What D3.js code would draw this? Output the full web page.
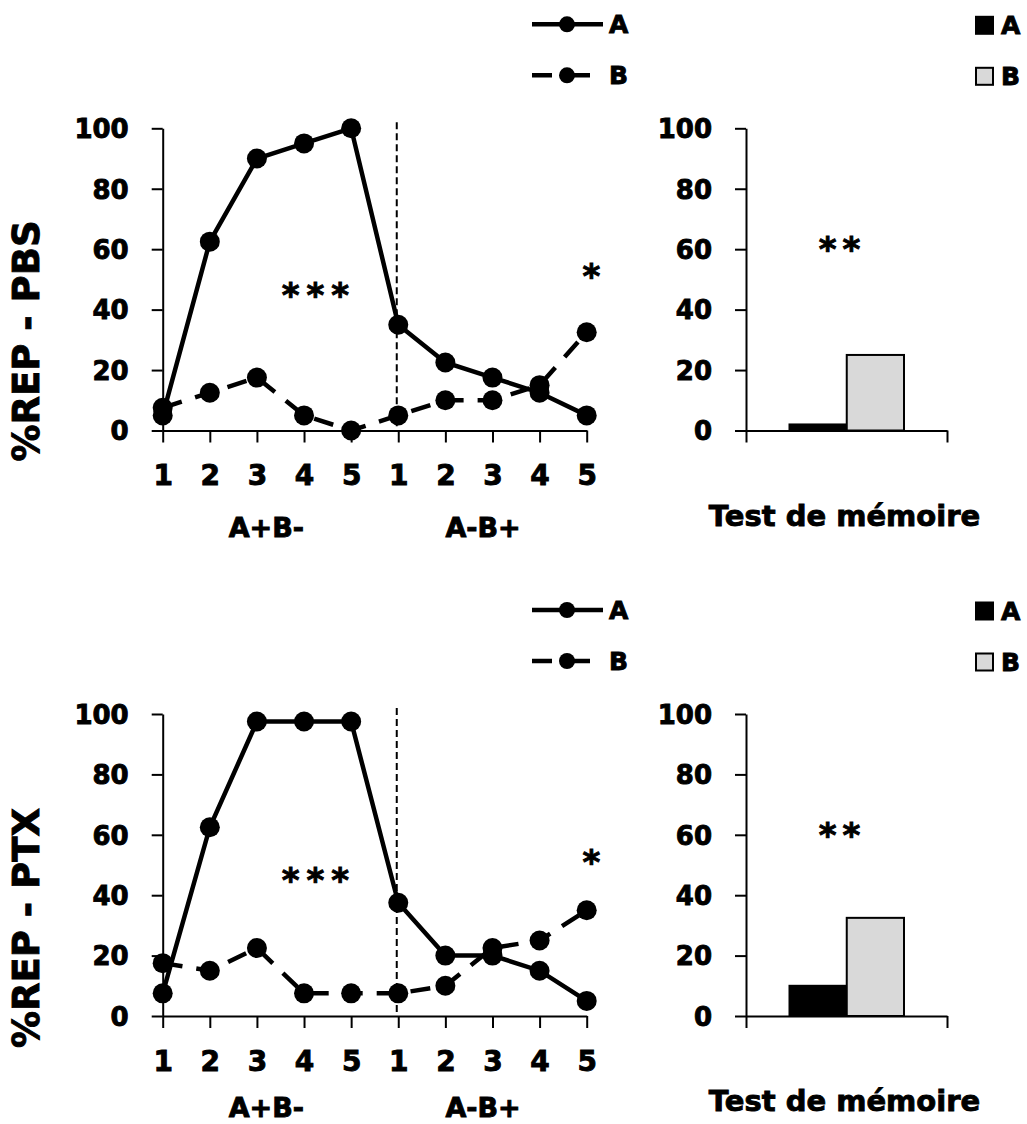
<!DOCTYPE html>
<html><head><meta charset="utf-8">
<script src="https://cdn.jsdelivr.net/npm/d3@7"></script>
<style>
body{margin:0;background:#fff}
text{font-family:"DejaVu Sans",sans-serif;font-weight:bold;fill:#000;stroke:#000;stroke-width:0.9px}
</style>
</head><body>
<svg id="c" width="1027" height="1124"></svg>
<script>
// ---- data ----
const sessionLabels = ["1","2","3","4","5","1","2","3","4","5"];
const phaseLabels = ["A+B-","A-B+"];
const seriesNames = ["A","B"];
const yTickValues = [0,20,40,60,80,100];
const pbsA = [5, 62.5, 90, 95, 100, 35, 22.5, 17.5, 12.5, 5];
const pbsB = [7.5, 12.5, 17.5, 5, 0, 5, 10, 10, 15, 32.5];
const ptxA = [7.5, 62.5, 97.5, 97.5, 97.5, 37.5, 20, 20, 15, 5];
const ptxB = [17.5, 15, 22.5, 7.5, 7.5, 7.5, 10, 22.5, 25, 35];
const pbsMemory = [2, 25];
const ptxMemory = [10, 32.5];
const memoryLabel = "Test de mémoire";
const titles = ["%REP - PBS", "%REP - PTX"];
const lineStars = ["***", "*"];
const barStars = "**";

// ---- layout ----
const svg = d3.select("#c");
const panels = [
  {title: titles[0], A: pbsA, B: pbsB, mem: pbsMemory, yTop: 128.3, yBot: 430.5, titleY: 341, phaseOff: 97},
  {title: titles[1], A: ptxA, B: ptxB, mem: ptxMemory, yTop: 714, yBot: 1016, titleY: 928, phaseOff: 91}
];
const lineX0 = 162.7, lineX1 = 586.7;
const barX0 = 746, barX1 = 947;

function styleText(sel, size) {
  sel.attr("font-size", size).style("font-family","DejaVu Sans").style("font-weight","bold")
     .attr("fill","#000").attr("stroke","#000").attr("stroke-width",0.9);
}

panels.forEach(p => {
  const g = svg.append("g");
  const y = d3.scaleLinear().domain([0,100]).range([p.yBot, p.yTop]);
  const x = d3.scaleLinear().domain([0, sessionLabels.length-1]).range([lineX0, lineX1]);

  // y axis (line chart)
  const yAx = g.append("g").attr("transform", `translate(${lineX0},0)`)
    .call(d3.axisLeft(y).tickValues(yTickValues).tickSize(11).tickSizeOuter(0).tickPadding(23));
  // x axis (line chart)
  const xAx = g.append("g").attr("transform", `translate(0,${p.yBot})`)
    .call(d3.axisBottom(x).tickValues(d3.range(sessionLabels.length))
      .tickFormat(i => sessionLabels[i]).tickSize(12).tickSizeOuter(0).tickPadding(23));
  [yAx, xAx].forEach(a => {
    a.selectAll("path,line").attr("stroke","#000").attr("stroke-width",2);
  });
  styleText(yAx.selectAll("text"), 26); yAx.selectAll("text").attr("dy","0.36em");
  styleText(xAx.selectAll("text"), 28);

  // phase labels
  g.selectAll(".phase").data(phaseLabels).enter().append("text")
    .attr("x", (d,i) => x(i === 0 ? 2.2 : 6.8))
    .attr("y", p.yBot + p.phaseOff).attr("dy","0.36em")
    .attr("text-anchor","middle").attr("font-size",27).text(d => d);

  // title
  g.append("text").attr("transform", `translate(39,${p.titleY}) rotate(-90)`)
    .attr("text-anchor","middle").attr("font-size",37).attr("stroke-width",1.2).text(p.title);

  // vertical dashed separator
  g.append("line").attr("x1", x(5)-1.5).attr("x2", x(5)-1.5)
    .attr("y1", y(102)).attr("y2", p.yBot)
    .attr("stroke","#000").attr("stroke-width",2).attr("stroke-dasharray","7,4");

  // lines
  const line = d3.line().x((d,i) => x(i)).y(d => y(d));
  g.append("path").datum(p.B).attr("d", line).attr("fill","none")
    .attr("stroke","#000").attr("stroke-width",4.5).attr("stroke-dasharray","20,14");
  g.append("path").datum(p.A).attr("d", line).attr("fill","none")
    .attr("stroke","#000").attr("stroke-width",4.5);
  [p.B, p.A].forEach(s => {
    g.selectAll(null).data(s).enter().append("circle")
      .attr("cx", (d,i) => x(i)).attr("cy", d => y(d)).attr("r", 10).attr("fill","#000");
  });

  // stars on line chart
  g.append("text").attr("x", x(3.25)+3).attr("y", y(48)).attr("dy","0.62em")
    .attr("text-anchor","middle").attr("font-size",34).attr("letter-spacing",7).text(lineStars[0]);
  g.append("text").attr("x", x(9.1)).attr("y", y(54)).attr("dy","0.62em")
    .attr("text-anchor","middle").attr("font-size",34).text(lineStars[1]);

  // line legend
  const lg = g.append("g");
  seriesNames.forEach((s,i) => {
    const ly = p.yTop - 104 + i*51;
    lg.append("line").attr("x1",532).attr("x2", i===0 ? 603 : 590).attr("y1",ly).attr("y2",ly)
      .attr("stroke","#000").attr("stroke-width",4.5)
      .attr("stroke-dasharray", i===0 ? null : "20,13,25");
    lg.append("circle").attr("cx",567).attr("cy",ly).attr("r",8).attr("fill","#000");
    lg.append("text").attr("x",609).attr("y",ly).attr("dy","0.36em").attr("font-size",25).text(s);
  });

  // ---- bar chart ----
  const bx = d3.scaleBand().domain(seriesNames).range([barX0+43.5, barX1-43]).padding(0);
  const byAx = g.append("g").attr("transform", `translate(${barX0},0)`)
    .call(d3.axisLeft(y).tickValues(yTickValues).tickSize(11).tickSizeOuter(0).tickPadding(23));
  styleText(byAx.selectAll("text"), 26); byAx.selectAll("text").attr("dy","0.36em");
  const bxLin = d3.scaleLinear().domain([0,1]).range([barX0, barX1]);
  const bxAx = g.append("g").attr("transform", `translate(0,${p.yBot})`)
    .call(d3.axisBottom(bxLin).tickValues([0,1]).tickFormat("").tickSize(12).tickSizeOuter(0));
  [byAx, bxAx].forEach(a => a.selectAll("path,line").attr("stroke","#000").attr("stroke-width",2));

  g.selectAll(null).data(p.mem).enter().append("rect")
    .attr("x", (d,i) => bx(seriesNames[i])).attr("width", bx.bandwidth())
    .attr("y", d => y(d)).attr("height", d => p.yBot - y(d))
    .attr("fill", (d,i) => i===0 ? "#000" : "#d9d9d9")
    .attr("stroke","#000").attr("stroke-width",2);

  g.append("text").attr("x", (barX0+barX1)/2 - 4).attr("y", y(63)).attr("dy","0.62em")
    .attr("text-anchor","middle").attr("font-size",34).attr("letter-spacing",6).text(barStars);

  g.append("text").attr("x", (barX0+barX1)/2 - 2).attr("y", p.yBot + 85).attr("dy","0.36em")
    .attr("text-anchor","middle").attr("font-size",29).text(memoryLabel);

  // bar legend
  seriesNames.forEach((s,i) => {
    const ly = p.yTop - 103 + i*51;
    g.append("rect").attr("x",976).attr("y",ly-8.5).attr("width",17).attr("height",17)
      .attr("fill", i===0 ? "#000" : "#d9d9d9").attr("stroke","#000").attr("stroke-width",2);
    g.append("text").attr("x",1001).attr("y",ly).attr("dy","0.36em").attr("font-size",25).text(s);
  });
});
</script>
</body></html>
